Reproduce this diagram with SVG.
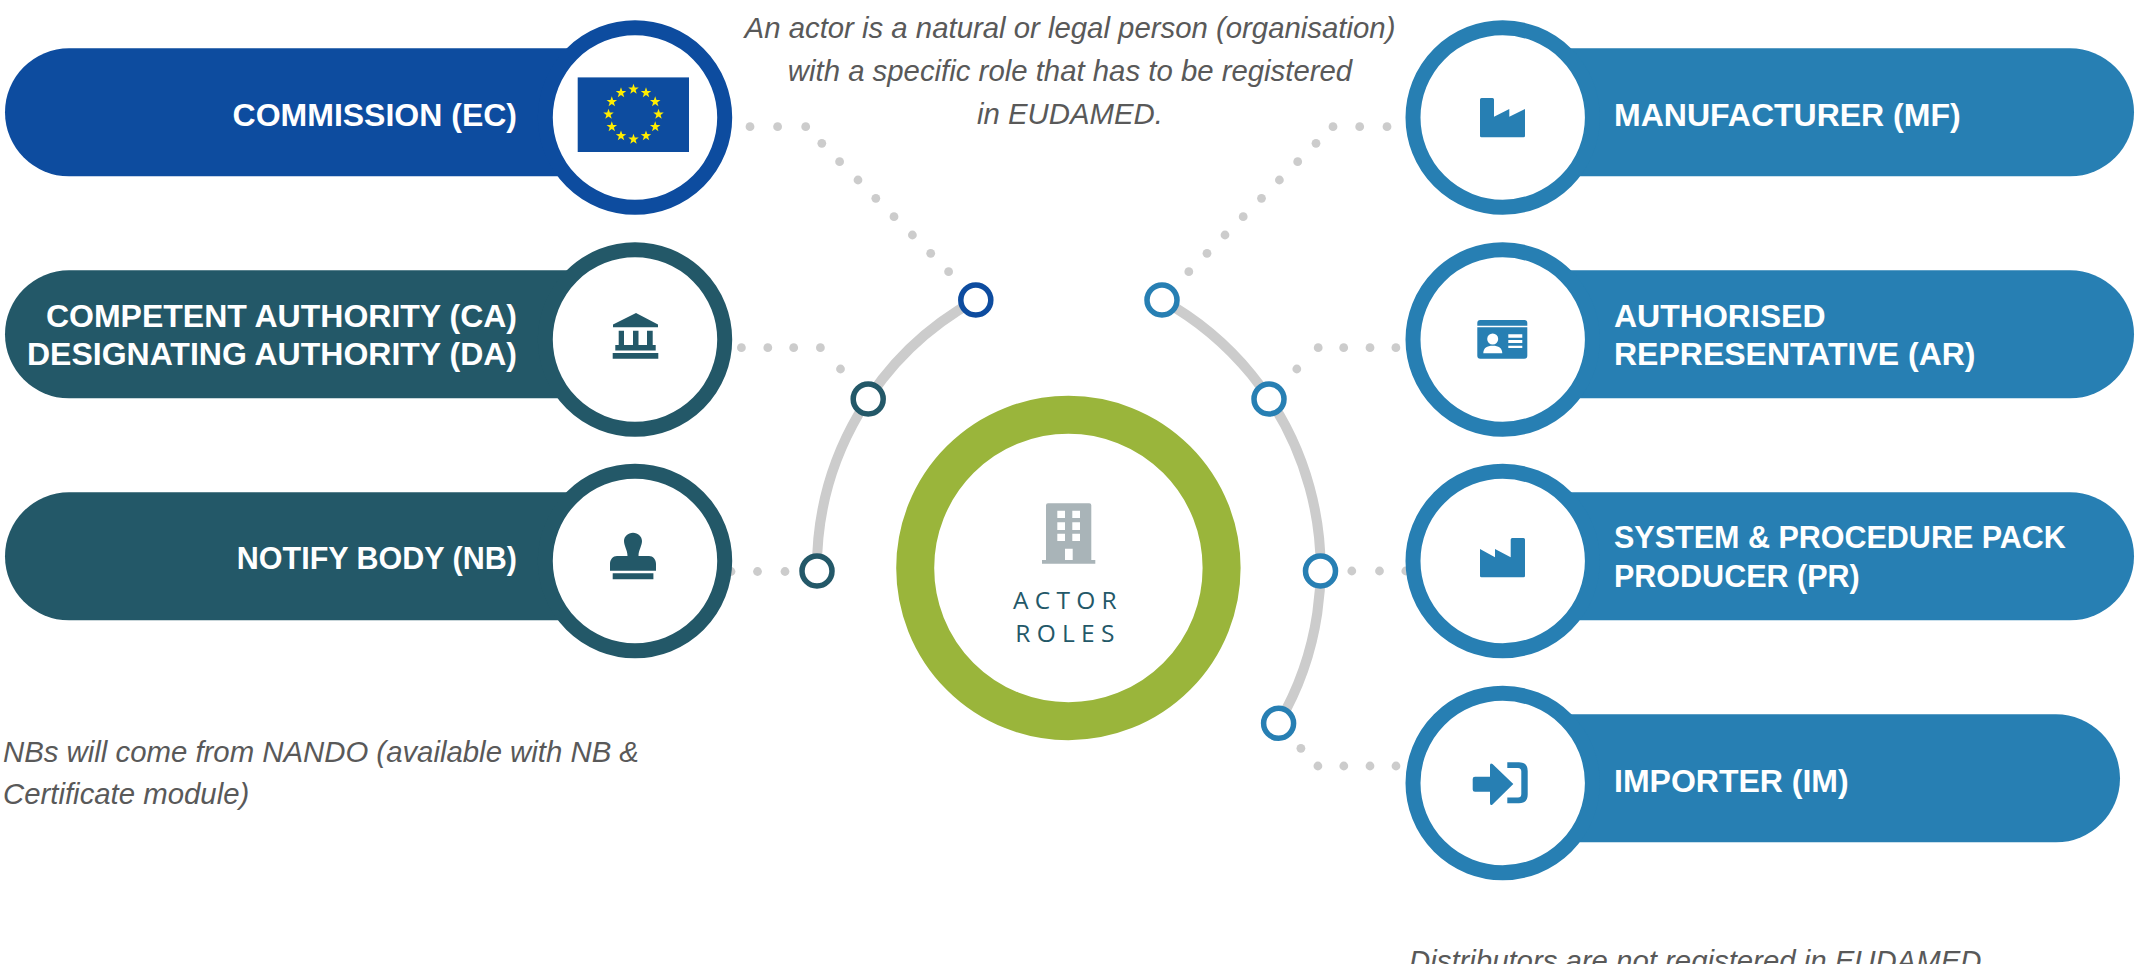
<svg xmlns="http://www.w3.org/2000/svg" width="2136" height="964" viewBox="0 0 2136 964">
<style>
.lbl{font-family:"Liberation Sans",Arial,sans-serif;font-weight:700;font-size:32px;fill:#fff}
.sm{font-size:30.5px}
.end{text-anchor:end}
.note{font-family:"Liberation Sans",Arial,sans-serif;font-style:italic;font-size:29.35px;fill:#595959}
.mid{text-anchor:middle}
.core{font-family:"Open Sans",sans-serif;font-size:24.5px;letter-spacing:6.3px;fill:#235868;text-anchor:middle}
.ec{fill:#0d4c9f}.teal{fill:#235868}.blue{fill:#277fb3}
.ring{fill:#fff;stroke-width:15}
.ecs{stroke:#0d4c9f}.teals{stroke:#235868}.blues{stroke:#277fb3}
.port{fill:#fff;stroke-width:5.5}
.arc{fill:none;stroke:#ccc;stroke-width:10}
.dot{fill:#ccc}
.wh{fill:#fff}
</style>
<defs>
<polygon id="star" fill="#ffed00" points="0,-5.5 1.3,-1.78 5.24,-1.7 2.09,.68 3.23,4.45 0,2.2 -3.23,4.45 -2.09,.68 -5.24,-1.7 -1.3,-1.78"/>
<circle id="d" r="4.4"/>
</defs>
<g id="connectors">
<path class="arc" d="M975.8 300A306 306 0 0 0 817 571"/>
<path class="arc" d="M1162 300A306.6 306.6 0 0 1 1278.6 723.3"/>
<g class="dot">
<use href="#d" x="750" y="126.7"/><use href="#d" x="777.6" y="126.7"/><use href="#d" x="805.7" y="126.7"/><use href="#d" x="821.8" y="143.3"/><use href="#d" x="839.6" y="161.7"/><use href="#d" x="858" y="180"/><use href="#d" x="875.8" y="198.3"/><use href="#d" x="894" y="216.7"/><use href="#d" x="912.4" y="235"/><use href="#d" x="930.7" y="253.3"/><use href="#d" x="948.6" y="271.7"/>
<use href="#d" x="741.4" y="347.7"/><use href="#d" x="767.8" y="347.7"/><use href="#d" x="793.7" y="347.7"/><use href="#d" x="820.4" y="347.7"/><use href="#d" x="840.5" y="369"/>
<use href="#d" x="731" y="571.5"/><use href="#d" x="757.5" y="571.5"/><use href="#d" x="785" y="571.5"/>
<use href="#d" x="1387" y="126.7"/><use href="#d" x="1359.7" y="126.7"/><use href="#d" x="1333" y="126.7"/><use href="#d" x="1316" y="143.3"/><use href="#d" x="1297.7" y="161.7"/><use href="#d" x="1279.4" y="180"/><use href="#d" x="1261.5" y="198.3"/><use href="#d" x="1243.2" y="216.7"/><use href="#d" x="1225" y="235"/><use href="#d" x="1207" y="253.3"/><use href="#d" x="1188.8" y="271.7"/>
<use href="#d" x="1395.9" y="347.7"/><use href="#d" x="1370" y="347.7"/><use href="#d" x="1343.7" y="347.7"/><use href="#d" x="1318.2" y="347.7"/><use href="#d" x="1296.8" y="369"/>
<use href="#d" x="1351.8" y="571"/><use href="#d" x="1379.5" y="571"/><use href="#d" x="1405.8" y="571"/>
<use href="#d" x="1300.9" y="748.3"/><use href="#d" x="1317.9" y="766"/><use href="#d" x="1343.8" y="766"/><use href="#d" x="1370" y="766"/><use href="#d" x="1396" y="766"/>
</g>
<circle class="port ecs" cx="975.8" cy="300" r="15"/>
<circle class="port teals" cx="868.2" cy="399" r="15"/>
<circle class="port teals" cx="817" cy="571" r="15"/>
<circle class="port blues" cx="1162" cy="300" r="15"/>
<circle class="port blues" cx="1269" cy="399" r="15"/>
<circle class="port blues" cx="1320.5" cy="571" r="15"/>
<circle class="port blues" cx="1278.6" cy="723.3" r="15"/>
</g>
<g id="commission">
<rect class="ec" x="5" y="48.3" width="630" height="128" rx="64"/>
<circle class="ring ecs" cx="635" cy="117.5" r="89.7"/>
<rect class="ec" x="577.7" y="77.4" width="111.3" height="74.6"/>
<use href="#star" x="633.5" y="89.3"/><use href="#star" x="646" y="92.7"/><use href="#star" x="655.2" y="101.8"/><use href="#star" x="658.5" y="114.3"/><use href="#star" x="655.2" y="126.8"/><use href="#star" x="646" y="135.9"/><use href="#star" x="633.5" y="139.3"/><use href="#star" x="621" y="135.9"/><use href="#star" x="611.8" y="126.8"/><use href="#star" x="608.5" y="114.3"/><use href="#star" x="611.8" y="101.8"/><use href="#star" x="621" y="92.7"/>
<text class="lbl end" x="517" y="126">COMMISSION (EC)</text>
</g>
<g id="competent-authority">
<rect class="teal" x="5" y="270.3" width="630" height="128" rx="64"/>
<circle class="ring teals" cx="635" cy="339.5" r="89.7"/>
<path class="teal" d="M613 324.5L636 313L658 324.5V327.3H613ZM618.7 330.7H624V345H618.7ZM633 330.7H638.5V345H633ZM647 330.7H652.7V345H647ZM615.3 345H655.7V350.5H615.3ZM612.7 353H658.3V358.7H612.7Z"/>
<text class="lbl end" x="517" y="326.5">COMPETENT AUTHORITY (CA)</text>
<text class="lbl end" x="517" y="364.5">DESIGNATING AUTHORITY (DA)</text>
</g>
<g id="notify-body">
<rect class="teal" x="5" y="492.3" width="630" height="128" rx="64"/>
<circle class="ring teals" cx="635" cy="561" r="89.7"/>
<path class="teal" d="M633 532.7C638 532.7 642 536.5 642 541C642 546 638.5 550 638.5 556H649C653 556 656 559.5 656 564V570.7H610V564C610 559.5 613 556 617 556H627.5C627.5 550 624 546 624 541C624 536.5 628 532.7 633 532.7ZM612.7 573.3H653.4V579.3H612.7Z"/>
<text class="lbl sm end" x="517" y="569">NOTIFY BODY (NB)</text>
</g>
<g id="manufacturer">
<rect class="blue" x="1500" y="48.3" width="634" height="128" rx="64"/>
<circle class="ring blues" cx="1502.7" cy="117.5" r="89.7"/>
<path class="blue" d="M1480 99.5Q1480 98 1481.5 98H1492.5Q1494 98 1494 99.5V116.7L1509.3 109V116.7L1525 109V136Q1525 137.3 1523.5 137.3H1481.5Q1480 137.3 1480 136Z"/>
<text class="lbl" x="1614" y="126">MANUFACTURER (MF)</text>
</g>
<g id="authorised-representative">
<rect class="blue" x="1500" y="270.3" width="634" height="128" rx="64"/>
<circle class="ring blues" cx="1502.7" cy="339.5" r="89.7"/>
<path class="blue" d="M1477.3 325.7V323Q1477.3 320 1480.3 320H1524.3Q1527.3 320 1527.3 323V325.7ZM1477.3 327.3H1527.3V355.7Q1527.3 358.7 1524.3 358.7H1480.3Q1477.3 358.7 1477.3 355.7Z"/>
<circle class="wh" cx="1492.7" cy="339" r="5.5"/>
<path class="wh" d="M1483.3 353.3C1483.3 348 1487 345.7 1492.8 345.7C1498.5 345.7 1502.3 348 1502.3 353.3ZM1508.3 334.3H1522.3V337.7H1508.3ZM1508.3 340H1522.3V343H1508.3ZM1508.3 345.7H1522.3V348H1508.3Z"/>
<text class="lbl" x="1614" y="326.5">AUTHORISED</text>
<text class="lbl" x="1614" y="364.5">REPRESENTATIVE (AR)</text>
</g>
<g id="system-procedure-pack-producer">
<rect class="blue" x="1500" y="492.3" width="634" height="128" rx="64"/>
<circle class="ring blues" cx="1502.7" cy="561" r="89.7"/>
<path class="blue" d="M1480 549L1495 557.3V549L1510.7 557.3V539.5Q1510.7 538 1512.2 538H1523.5Q1525 538 1525 539.5V576Q1525 577.3 1523.5 577.3H1481.5Q1480 577.3 1480 576Z"/>
<text class="lbl sm" x="1614" y="548">SYSTEM &amp; PROCEDURE PACK</text>
<text class="lbl sm" x="1614" y="586.5">PRODUCER (PR)</text>
</g>
<g id="importer">
<rect class="blue" x="1500" y="714.3" width="620" height="128" rx="64"/>
<circle class="ring blues" cx="1502.7" cy="783" r="89.7"/>
<path class="blue" d="M1475 776.7H1490V765.5Q1490 762.5 1492.5 764L1513.3 784L1492.5 804.5Q1490 806 1490 803V791.7H1475Q1472.7 791.7 1472.7 789.5V779Q1472.7 776.7 1475 776.7ZM1507.3 762.3H1519Q1527.7 762.3 1527.7 771V794.5Q1527.7 803.3 1519 803.3H1507.3V797.5H1518Q1521.3 797.5 1521.3 794V771.5Q1521.3 768 1518 768H1507.3Z"/>
<text class="lbl" x="1614" y="792">IMPORTER (IM)</text>
</g>
<g id="actor-roles">
<circle fill="#fff" stroke="#9ab53b" stroke-width="38" cx="1068.4" cy="568" r="153.2"/>
<path fill="#a9b4b8" fill-rule="evenodd" d="M1048 503.3H1089.3Q1091.3 503.3 1091.3 505.3V560H1095.3V563.7H1042V560H1046V505.3Q1046 503.3 1048 503.3ZM1057.3 510.7V518H1065V510.7ZM1072.3 510.7V518H1080V510.7ZM1057.3 522.3V530H1065V522.3ZM1072.3 522.3V530H1080V522.3ZM1057.3 533.7V541H1065V533.7ZM1072.3 533.7V541H1080V533.7ZM1065 548.7V560H1072.7V548.7Z"/>
<text class="core" x="1068" y="609.3">ACTOR</text>
<text class="core" x="1068" y="641.7">ROLES</text>
</g>
<g id="notes">
<text class="note mid" x="1070" y="37.7">An actor is a natural or legal person (organisation)</text>
<text class="note mid" x="1070" y="80.7">with a specific role that has to be registered</text>
<text class="note mid" x="1070" y="123.7">in EUDAMED.</text>
<text class="note" x="3" y="761.7">NBs will come from NANDO (available with NB &amp;</text>
<text class="note" x="3" y="804.3">Certificate module)</text>
<text class="note" x="1409" y="971">Distributors are not registered in EUDAMED</text>
</g>
</svg>
